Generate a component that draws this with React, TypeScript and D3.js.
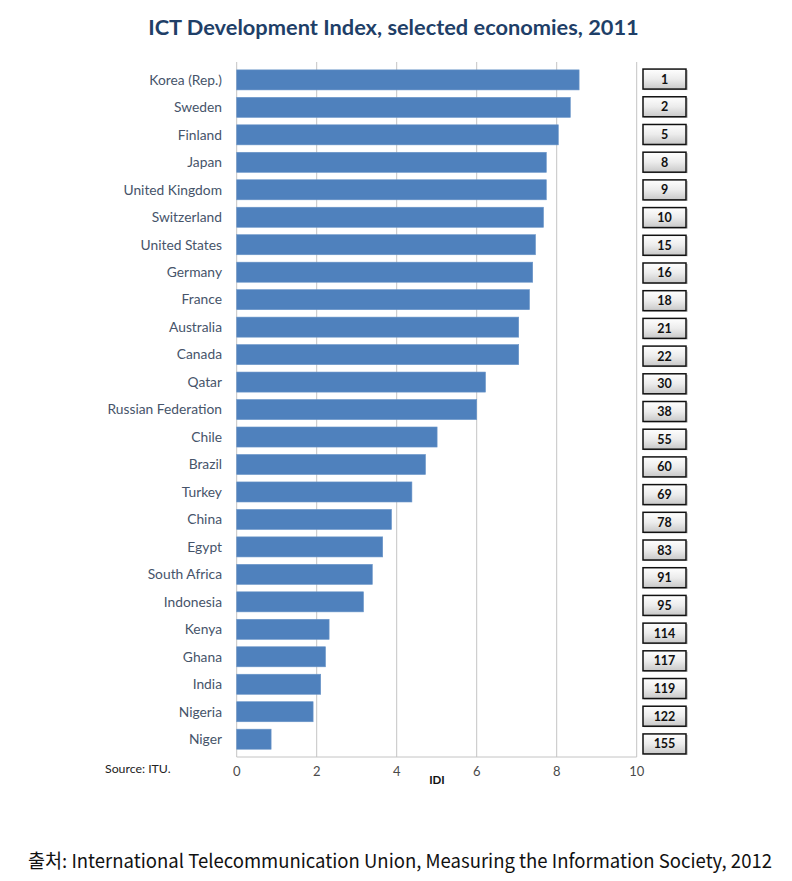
import React from "react";
import * as d3 from "d3";

const countries = [
  "Korea (Rep.)", "Sweden", "Finland", "Japan", "United Kingdom", "Switzerland",
  "United States", "Germany", "France", "Australia", "Canada", "Qatar",
  "Russian Federation", "Chile", "Brazil", "Turkey", "China", "Egypt",
  "South Africa", "Indonesia", "Kenya", "Ghana", "India", "Nigeria", "Niger",
];
const idi = [
  8.56, 8.34, 8.04, 7.74, 7.74, 7.67, 7.47, 7.40, 7.32, 7.05, 7.05, 6.22,
  6.00, 5.01, 4.72, 4.38, 3.87, 3.65, 3.39, 3.17, 2.31, 2.22, 2.10, 1.91, 0.86,
];
const ranks = [
  1, 2, 5, 8, 9, 10, 15, 16, 18, 21, 22, 30, 38, 55, 60, 69, 78, 83, 91, 95,
  114, 117, 119, 122, 155,
];
const xTicks = [0, 2, 4, 6, 8, 10];

const title = "ICT Development Index, selected economies, 2011";
const sourceNote = "Source: ITU.";
const axisTitle = "IDI";
const caption = "출처: International Telecommunication Union, Measuring the Information Society, 2012";

export default function App() {
  const W = 792, H = 881;
  const x = d3.scaleLinear().domain([0, 10]).range([236.7, 636.7]);
  const y = d3.scaleBand<string>().domain(countries).range([66.3, 752.8]).paddingInner(0.27).paddingOuter(0.13);
  const yBox = d3.scaleBand<string>().domain(countries).range([65.5, 757.5]).paddingInner(0.22).paddingOuter(0.1);
  const plotTop = 62, plotBottom = 757;
  const labelColor = "#46546a";
  const font = "Lato, 'Open Sans', sans-serif";

  return (
    <svg width={W} height={H} style={{ position: "absolute", left: 0, top: 0, background: "#fff" }}
      fontFamily={font}>
      <defs>
        <linearGradient id="boxGrad" x1="0" y1="0" x2="0" y2="1">
          <stop offset="0" stopColor="#ffffff" />
          <stop offset="0.5" stopColor="#ececec" />
          <stop offset="1" stopColor="#c8c8c8" />
        </linearGradient>
      </defs>
      <rect x={0} y={0} width={W} height={H} fill="#fff" />
      <text x={393.5} y={35} textAnchor="middle" fontSize={21.8} fontWeight="bold" fill="#1f3f68">{title}</text>

      {/* gridlines */}
      {xTicks.map((t) => (
        <line key={"g" + t} x1={x(t)} x2={x(t)} y1={plotTop} y2={plotBottom} stroke="#c4c4c4" strokeWidth={1} />
      ))}
      <line x1={x(0)} x2={x(10)} y1={plotBottom} y2={plotBottom} stroke="#c4c4c4" strokeWidth={1} />

      {/* bars */}
      {countries.map((c, i) => (
        <rect key={c} x={x(0)} y={y(c)} width={x(idi[i]) - x(0)} height={y.bandwidth()}
          fill="#4f81bd" stroke="#6a95c8" strokeWidth={0.6} />
      ))}

      {/* category labels */}
      {countries.map((c) => (
        <text key={"l" + c} x={222} y={(y(c) as number) + y.bandwidth() / 2} dy="0.35em"
          textAnchor="end" fontSize={13.8} fill={labelColor}>{c}</text>
      ))}

      {/* tick labels */}
      {xTicks.map((t) => (
        <text key={"t" + t} x={x(t)} y={776} textAnchor="middle" fontSize={13} fill="#4a4a4a">{t}</text>
      ))}
      <text x={437} y={784} textAnchor="middle" fontSize={11.5} fontWeight="bold" fill="#111">{axisTitle}</text>
      <text x={105} y={773} fontSize={12.3} fill="#222">{sourceNote}</text>

      {/* rank boxes */}
      {countries.map((c, i) => {
        const by = yBox(c) as number;
        const bh = 20;
        const cy = by + yBox.bandwidth() / 2;
        return (
          <g key={"r" + c}>
            <rect x={644} y={cy - bh / 2 + 1} width={44} height={bh} fill="#999" opacity={0.5} />
            <rect x={643} y={cy - bh / 2} width={43} height={bh} fill="url(#boxGrad)" stroke="#111" strokeWidth={1.5} />
            <text x={664.5} y={cy} dy="0.36em" textAnchor="middle" fontSize={12.5} fontWeight="bold" fill="#111">{ranks[i]}</text>
          </g>
        );
      })}

      <text x={28} y={868} fontSize={19} fill="#111" fontFamily="'Noto Sans CJK KR', sans-serif"
        textLength={744} lengthAdjust="spacingAndGlyphs">{caption}</text>
    </svg>
  );
}
